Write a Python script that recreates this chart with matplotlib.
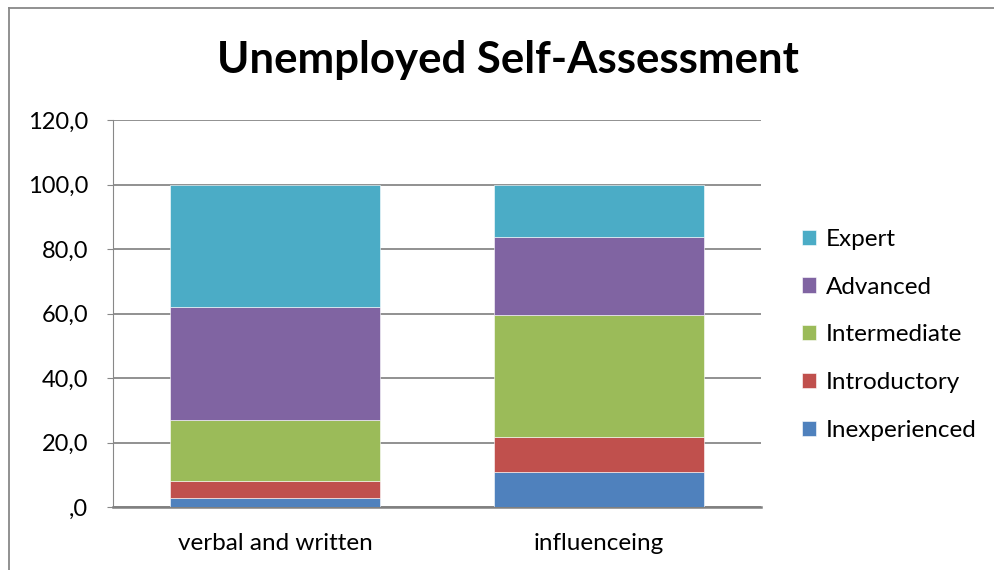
import numpy as np
import matplotlib.pyplot as plt
from matplotlib.ticker import FuncFormatter
from matplotlib.lines import Line2D

# percent of respondents per skill level
categories = ['verbal and written', 'influenceing']
levels = ['Inexperienced', 'Introductory', 'Intermediate', 'Advanced', 'Expert']
inexperienced = [2.7, 10.8]
introductory = [5.4, 10.8]
intermediate = [18.9, 37.8]
advanced = [35.1, 24.3]
expert = [37.8, 16.2]
colors = ['#4F81BD', '#C0504D', '#9BBB59', '#8064A2', '#4BACC6']

plt.rcParams['font.family'] = ['Lato', 'DejaVu Sans']

fig = plt.figure(figsize=(9.95, 5.7), dpi=100)
ax = fig.add_axes([113/995, 63/570, 648/995, 387/570])

x = np.arange(len(categories))
bottom = np.zeros(len(categories))
for name, vals, c in zip(levels, [inexperienced, introductory, intermediate, advanced, expert], colors):
    ax.bar(x, vals, width=0.65, bottom=bottom, color=c, label=name, zorder=3,
           edgecolor='white', linewidth=0.4)
    bottom += np.array(vals)

ax.set_xlim(-0.5, 1.5)
ax.set_ylim(0, 120)
ax.set_yticks(np.arange(0, 121, 20))

def fmt(v, pos):
    s = f'{v:.1f}'.replace('.', ',')
    return s[1:] if s.startswith('0') else s

ax.yaxis.set_major_formatter(FuncFormatter(fmt))
ax.set_xticks(x)
ax.set_xticklabels(categories)
ax.tick_params(axis='y', labelsize=17, length=4, color='#888888', pad=14)
ax.tick_params(axis='x', labelsize=17.5, length=0, pad=19)
ax.grid(axis='y', color='#888888', linewidth=1.3, zorder=0)
for side in ['top', 'right']:
    ax.spines[side].set_visible(False)
ax.spines['left'].set_color('#888888')
ax.spines['bottom'].set_color('#808080')
ax.spines['bottom'].set_linewidth(1.8)

fig.text(508/995, 1 - 60/570, 'Unemployed Self-Assessment', ha='center', va='center',
         fontsize=31.5, fontweight='bold')

handles, labels = ax.get_legend_handles_labels()
leg = fig.legend(handles[::-1], labels[::-1], loc='upper left',
                 bbox_to_anchor=(780/995, 1 - 207/570), frameon=False,
                 fontsize=17.5, handlelength=0.6, handleheight=0.6,
                 handletextpad=0.4, labelspacing=1.1)

# outer chart frame
fig.add_artist(Line2D([9/995, 9/995], [0, 1 - 8/570], transform=fig.transFigure,
                      color='#888888', linewidth=1.3))
fig.add_artist(Line2D([9/995, 1], [1 - 8/570, 1 - 8/570], transform=fig.transFigure,
                      color='#888888', linewidth=1.3))

fig.savefig('out.png', dpi=100)
